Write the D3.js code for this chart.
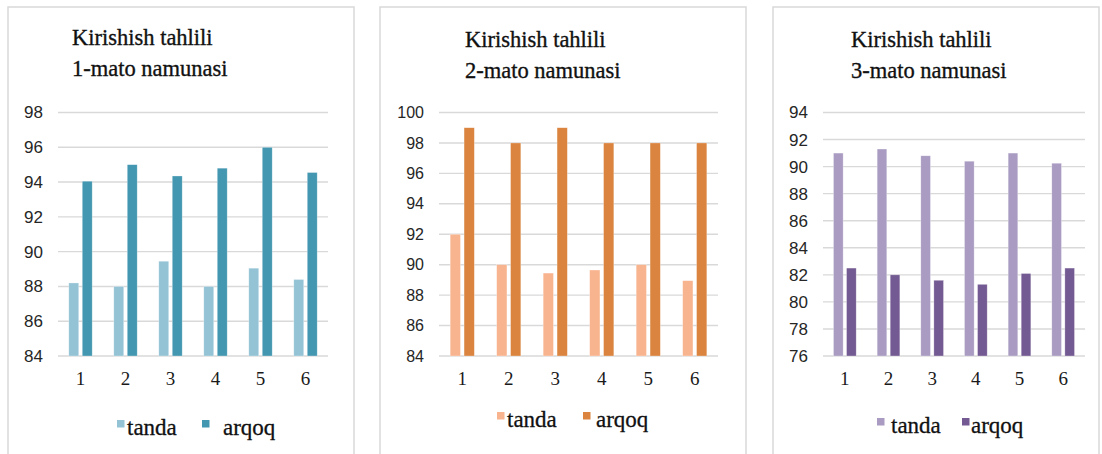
<!DOCTYPE html>
<html>
<head>
<meta charset="utf-8">
<script src="https://cdn.jsdelivr.net/npm/d3@7"></script>
<style>
  body { margin: 0; background: #fff; }
  svg { display: block; }
</style>
</head>
<body>
<div id="chart"></div>
<script>
// categories and series
const categories = ["1", "2", "3", "4", "5", "6"];
const seriesNames = ["tanda", "arqoq"];

// 1-mato namunasi
const tanda1 = [88.2, 88.0, 89.45, 88.0, 89.05, 88.4];
const arqoq1 = [94.05, 95.0, 94.35, 94.8, 96.0, 94.55];
const ticks1 = [84, 86, 88, 90, 92, 94, 96, 98];

// 2-mato namunasi
const tanda2 = [92.0, 90.0, 89.45, 89.65, 90.0, 88.95];
const arqoq2 = [99.0, 98.0, 99.0, 98.0, 98.0, 98.0];
const ticks2 = [84, 86, 88, 90, 92, 94, 96, 98, 100];

// 3-mato namunasi
const tanda3 = [91.0, 91.3, 90.8, 90.4, 91.0, 90.25];
const arqoq3 = [82.5, 82.0, 81.6, 81.3, 82.1, 82.5];
const ticks3 = [76, 78, 80, 82, 84, 86, 88, 90, 92, 94];

const titleLine1 = "Kirishish tahlili";
const titles2 = ["1-mato namunasi", "2-mato namunasi", "3-mato namunasi"];

const width = 1102, height = 454;
const serif = "'Liberation Serif', 'Times New Roman', serif";

const svg = d3.select("#chart").append("svg")
    .attr("width", width)
    .attr("height", height);

// layout for each panel (frame, plot area, title, legend)
const panels = [
    {
        series: [tanda1, arqoq1], ticks: ticks1, subtitle: titles2[0],
        colors: ["#93c3d5", "#4397b0"],
        frame: [8, 354], plot: [58, 328], titleX: 72, titleY: 45,
        tickFont: 17, legendY: 435, legendSq: [117, 202], legendTx: [127, 223]
    },
    {
        series: [tanda2, arqoq2], ticks: ticks2, subtitle: titles2[1],
        colors: ["#f8b48e", "#da843f"],
        frame: [380, 746], plot: [439, 718], titleX: 465, titleY: 47,
        tickFont: 16, legendY: 427, legendSq: [497, 583], legendTx: [507, 596]
    },
    {
        series: [tanda3, arqoq3], ticks: ticks3, subtitle: titles2[2],
        colors: ["#a99bc1", "#735a92"],
        frame: [773, 1099], plot: [823, 1085], titleX: 851, titleY: 47,
        tickFont: 17, legendY: 433, legendSq: [877, 962], legendTx: [891, 971]
    }
];

const plotTop = 112.5, plotBottom = 356;

panels.forEach(p => {
    const g = svg.append("g");

    // frame
    g.append("rect")
        .attr("x", p.frame[0])
        .attr("y", 7)
        .attr("width", p.frame[1] - p.frame[0])
        .attr("height", height + 20)
        .attr("fill", "none")
        .attr("stroke", "#d9d9d9")
        .attr("stroke-width", 1.5);

    // title, two lines
    const title = g.append("text")
        .attr("x", p.titleX)
        .attr("y", p.titleY)
        .attr("font-family", serif)
        .attr("font-size", 22.5)
        .attr("fill", "#111")
        .attr("stroke", "#111")
        .attr("stroke-width", 0.35);
    title.append("tspan").attr("x", p.titleX).text(titleLine1);
    title.append("tspan").attr("x", p.titleX).attr("dy", 31).text(p.subtitle);

    const y = d3.scaleLinear()
        .domain([p.ticks[0], p.ticks[p.ticks.length - 1]])
        .range([plotBottom, plotTop]);

    const x0 = d3.scaleBand()
        .domain(categories)
        .range(p.plot)
        .paddingInner(0.48)
        .paddingOuter(0.24);

    const x1 = d3.scaleBand()
        .domain(seriesNames)
        .range([0, x0.bandwidth()])
        .paddingInner(0.26);

    // gridlines
    g.append("g")
        .selectAll("line")
        .data(p.ticks)
        .join("line")
        .attr("x1", p.plot[0])
        .attr("x2", p.plot[1])
        .attr("y1", d => y(d))
        .attr("y2", d => y(d))
        .attr("stroke", "#d9d9d9")
        .attr("stroke-width", 1.4);

    // y axis labels
    const yAxis = g.append("g")
        .attr("transform", `translate(${p.plot[0] - 15},0)`)
        .call(d3.axisLeft(y).tickValues(p.ticks).tickSize(0).tickPadding(0));
    yAxis.select(".domain").remove();
    yAxis.selectAll("text")
        .attr("font-family", "'Liberation Sans', Arial, sans-serif")
        .attr("font-size", p.tickFont)
        .attr("fill", "#262626");

    // x axis labels
    const xAxis = g.append("g")
        .attr("transform", `translate(0,${plotBottom + 15})`)
        .call(d3.axisBottom(x0).tickSize(0).tickPadding(0));
    xAxis.select(".domain").remove();
    xAxis.selectAll("text")
        .attr("font-family", serif)
        .attr("font-size", 19)
        .attr("fill", "#1a1a1a");

    // bars
    const rows = categories.map((c, i) => ({
        cat: c,
        values: seriesNames.map((s, k) => ({ key: s, value: p.series[k][i], color: p.colors[k] }))
    }));

    g.append("g")
        .selectAll("g")
        .data(rows)
        .join("g")
        .attr("transform", d => `translate(${x0(d.cat)},0)`)
        .selectAll("rect")
        .data(d => d.values)
        .join("rect")
        .attr("x", d => x1(d.key))
        .attr("width", x1.bandwidth())
        .attr("y", d => y(d.value))
        .attr("height", d => plotBottom - y(d.value))
        .attr("fill", d => d.color)
        .attr("stroke", "#ffffff")
        .attr("stroke-opacity", 0.5)
        .attr("stroke-width", 0.6);

    // legend
    seriesNames.forEach((s, k) => {
        g.append("rect")
            .attr("x", p.legendSq[k])
            .attr("y", p.legendY - 15)
            .attr("width", 7.5)
            .attr("height", 7.5)
            .attr("fill", p.colors[k]);
        g.append("text")
            .attr("x", p.legendTx[k])
            .attr("y", p.legendY)
            .attr("font-family", serif)
            .attr("font-size", 23)
            .attr("fill", "#111")
            .attr("stroke", "#111")
            .attr("stroke-width", 0.3)
            .text(s);
    });
});
</script>
</body>
</html>
